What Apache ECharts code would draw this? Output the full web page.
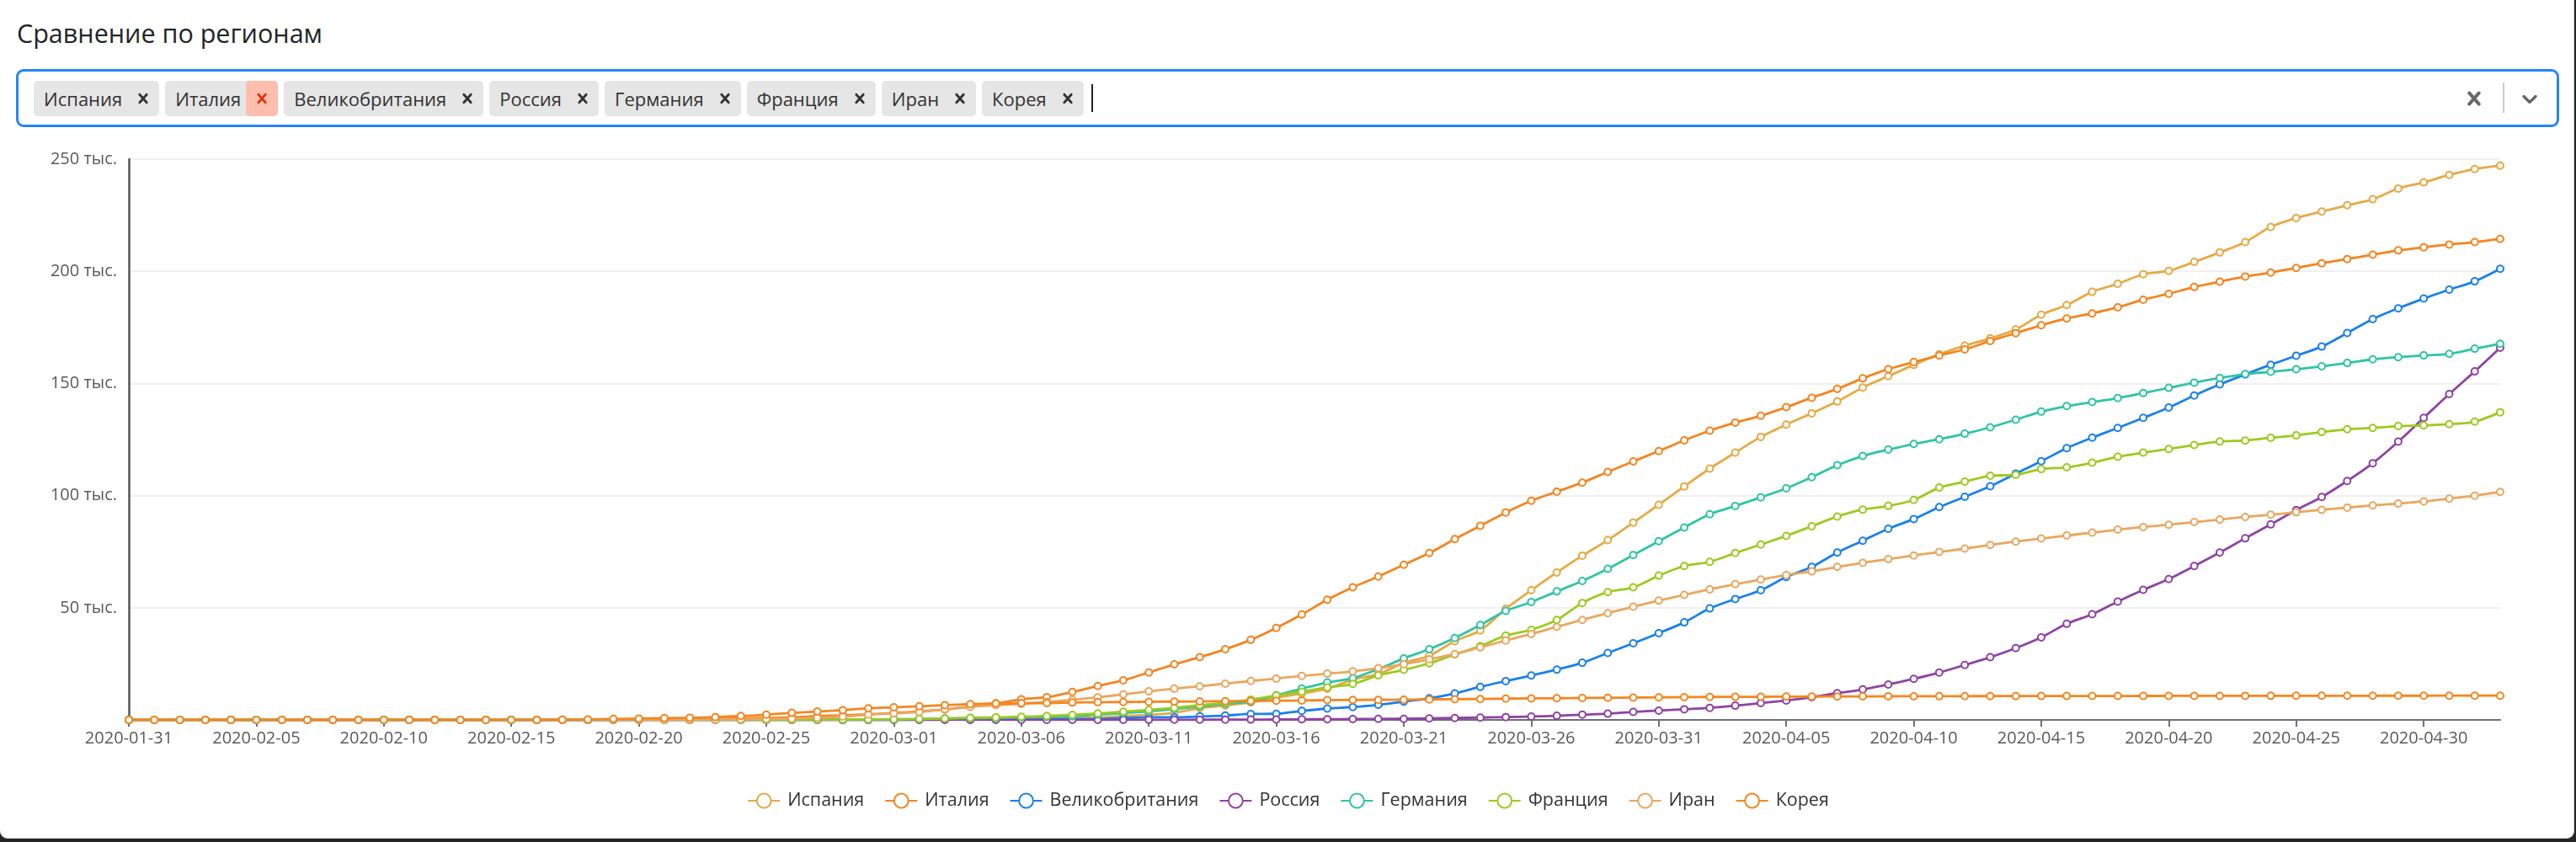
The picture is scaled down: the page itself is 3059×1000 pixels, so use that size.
<!DOCTYPE html>
<html>
<head>
<meta charset="utf-8">
<script src="https://cdn.jsdelivr.net/npm/echarts@6/dist/echarts.min.js"></script>
<style>
  html, body { margin:0; padding:0; }
  body { width:3059px; height:1000px; overflow:hidden; background:#262626; font-family:"Open Sans", "Noto Sans", sans-serif; }
  #card { position:absolute; left:0; top:0; width:3057px; height:996px; background:#fff; border-right:1px solid #d4d4d4; border-bottom:1px solid #d4d4d4; border-radius:0 0 9px 9px; box-sizing:border-box; }
  #title { position:absolute; left:20px; top:18px; font-size:30.5px; line-height:42px; color:#212529; font-weight:500; }
  #select { position:absolute; left:19px; top:82px; width:3020px; height:69px; border:3px solid #2684ff; border-radius:9px; box-sizing:border-box; display:flex; align-items:center; }
  #values { display:flex; align-items:center; padding-left:18px; flex:1; }
  .tag { display:flex; align-items:stretch; background:#e6e6e6; border-radius:5px; height:42px; margin-right:7px; }
  .tag .lbl { font-size:22px; color:#333; padding:0 6px 0 12px; display:flex; align-items:center; }
  .tag .rm { width:38px; display:flex; align-items:center; justify-content:center; border-radius:5px; color:#333; }
  .tag .rm.hot { background:#ffbdad; color:#de350b; }
  .caret { width:2px; height:33px; background:#222; margin-left:2px; }
  #sep { position:absolute; left:2950px; top:13px; width:2px; height:36px; background:#ccc; }
  #clear { position:absolute; left:2905px; top:21px; }
  #chev { position:absolute; left:2966px; top:17px; }
  #chart { position:absolute; left:0; top:160px; width:3059px; height:830px; }
</style>
</head>
<body>
<div id="card">
  <div id="title">Сравнение по регионам</div>
  <div id="select">
    <div id="values"></div>
    <div id="sep"></div>
    <svg id="clear" width="22" height="22" viewBox="0 0 20 20"><path fill="#666" d="M14.348 14.849c-0.469 0.469-1.229 0.469-1.697 0l-2.651-3.030-2.651 3.029c-0.469 0.469-1.229 0.469-1.697 0-0.469-0.469-0.469-1.229 0-1.697l2.758-3.15-2.759-3.152c-0.469-0.469-0.469-1.228 0-1.697s1.228-0.469 1.697 0l2.652 3.031 2.651-3.031c0.469-0.469 1.228-0.469 1.697 0s0.469 1.229 0 1.697l-2.758 3.152 2.758 3.15c0.469 0.469 0.469 1.229 0 1.698z" transform="translate(-5,-5) scale(1.5)"/></svg>
    <svg id="chev" width="32" height="30" viewBox="0 0 20 20"><path fill="#666" d="M4.516 7.548c0.436-0.446 1.043-0.481 1.576 0l3.908 3.747 3.908-3.747c0.533-0.481 1.141-0.446 1.574 0 0.436 0.445 0.408 1.197 0 1.615-0.406 0.418-4.695 4.502-4.695 4.502-0.217 0.223-0.502 0.335-0.787 0.335s-0.57-0.112-0.789-0.335c0 0-4.287-4.084-4.695-4.502s-0.436-1.17 0-1.615z"/></svg>
  </div>
  <div id="chart"></div>
</div>
<script>
const seriesNames = ['Испания', 'Италия', 'Великобритания', 'Россия', 'Германия', 'Франция', 'Иран', 'Корея'];
const seriesColors = ['#e6aa45', '#f5841f', '#1a80ec', '#8e43a3', '#2ec4a5', '#9cca1f', '#eaa75e', '#f5861f'];

const dates = [
'2020-01-31',
'2020-02-01','2020-02-02','2020-02-03','2020-02-04','2020-02-05','2020-02-06','2020-02-07','2020-02-08','2020-02-09','2020-02-10',
'2020-02-11','2020-02-12','2020-02-13','2020-02-14','2020-02-15','2020-02-16','2020-02-17','2020-02-18','2020-02-19','2020-02-20',
'2020-02-21','2020-02-22','2020-02-23','2020-02-24','2020-02-25','2020-02-26','2020-02-27','2020-02-28','2020-02-29',
'2020-03-01','2020-03-02','2020-03-03','2020-03-04','2020-03-05','2020-03-06','2020-03-07','2020-03-08','2020-03-09','2020-03-10',
'2020-03-11','2020-03-12','2020-03-13','2020-03-14','2020-03-15','2020-03-16','2020-03-17','2020-03-18','2020-03-19','2020-03-20',
'2020-03-21','2020-03-22','2020-03-23','2020-03-24','2020-03-25','2020-03-26','2020-03-27','2020-03-28','2020-03-29','2020-03-30','2020-03-31',
'2020-04-01','2020-04-02','2020-04-03','2020-04-04','2020-04-05','2020-04-06','2020-04-07','2020-04-08','2020-04-09','2020-04-10',
'2020-04-11','2020-04-12','2020-04-13','2020-04-14','2020-04-15','2020-04-16','2020-04-17','2020-04-18','2020-04-19','2020-04-20',
'2020-04-21','2020-04-22','2020-04-23','2020-04-24','2020-04-25','2020-04-26','2020-04-27','2020-04-28','2020-04-29','2020-04-30',
'2020-05-01','2020-05-02','2020-05-03'
];

const spain = [0,
1,1,1,1,1,1,1,1, 2,2,2,2,2,2,2,2,2,2,2,2,2,2,2,2, 6,13,15,32,45,
84,120,165,222,259,400,500,673,1073,1695,2277,3146,5232,6391,7798,9942,11748,13910,17963,20410,25374,28603,35136,39885,49515,57786,65719,73235,80110,87956,95923,
104118,112065,119199,126168,131646,136675,141942,148220,153222,158273,163027,166831,170099,174060,180659,184948,190839,194416,198674,200210,204178,208389,213024,219764,223759,226629,229422,232128,236899,239639,
242988,245567,247122];

const italy = [
2,2,2,2, 3,3,3,3,3,3,3,3,3,3,3,3,3,3, 20,62,155,229,322,453,655,888,1128,
1694,2036,2502,3089,3858,4636,5883,7375,9172,10149,12462,15113,17660,21157,24747,27980,31506,35713,41035,47021,53578,59138,63927,69176,74386,80589,86498,92472,97689,101739,105792,
110574,115242,119827,124632,128948,132547,135586,139422,143626,147577,152271,156363,159516,162488,165155,168941,172434,175925,178972,181228,183957,187327,189973,192994,195351,197675,199414,201505,203591,205463,
207428,209328,210717,211938,213013,214457];

const uk = [
2,2,2, 3,3,3,3, 8,8,8, 9,9,9,9,9,9,9,9,9,9,9, 13,13,13, 15,20,23,
36,40,51,86,116,164,207,274,322,384,459,459,802,1144,1145,1551,1960,2642,2716,4014,5067,5745,6726,8164,9640,11812,14745,17312,19780,22453,25481,
29865,34173,38689,43500,49700,53900,57800,63700,68200,74605,79874,85206,89570,94845,99483,104145,109769,115314,121172,125856,130172,134638,139246,144640,149569,154037,158348,162350,166441,172481,
178685,183500,187842,191832,195524,201101];

const russia = [
2,2,2,2,2,2,2,2,2,2,2,2,2,2,2,2,2,2,2,2,2,2,2,2,2,2,2,
2,3,3,3,4,13,13,17,17,20,20,28,45,59,63,90,114,147,199,253,306,367,438,495,658,840,1036,1264,1534,1836,2337,
2777,3548,4149,4731,5389,6343,7497,8672,10131,11917,13584,15770,18328,21102,24490,27938,32008,36793,42853,47121,52763,57999,62773,68622,74588,80949,87147,93558,99399,106498,
114431,124054,134687,145268,155370,165929];

const germany = [
10,12,12,12,13,13,14,14,16, 16,16,16,16,16,16,16,16,16,16,16,16,16, 17,27,46,48,79,
117,150,188,240,400,639,795,902,1139,1296,1567,2369,3062,3795,4838,6012,7156,8198,10999,13957,16662,18610,22672,27436,31554,36508,42288,48582,52547,57298,61913,
67366,73522,79696,85778,91714,95391,99225,103228,108202,113525,117658,120479,123016,125098,127584,130450,133830,137439,139897,141672,143457,145694,148046,150383,152438,154175,155193,156337,157641,159119,
160758,161703,162496,163175,165500,167700];

const france = [
6,6,6,6,6, 11,11,11,11,11,11,11, 12,12,12,12,12,12,12,12,12,12,12, 18,38,57,100,
130,191,212,285,423,653,949,1126,1412,1784,2281,2876,3661,4469,5380,6573,7652,9043,10871,12612,14459,16018,19856,22302,25233,29155,32964,37575,40174,44550,52128,
56989,59105,64338,68605,70478,74390,78167,82048,86334,90676,93790,95403,98076,103573,106206,108847,109252,111821,112606,114657,117324,119151,120804,122577,124114,124575,125770,126835,128339,129581,
130185,130979,131287,131863,132967,137150];

const iran = [
0,0,0,0,0,0,0,0,0,0,0,0,0,0,0,0, 2,5,18,28,43,61,95,139,245,388,593,
978,1501,2336,2922,3513,4747,5823,6566,7161,8042,9000,10075,11364,12729,13938,14991,16169,17361,18407,19644,20610,21638,23049,24811,27017,29406,32332,35408,38309,41495,44605,
47593,50468,53183,55743,58226,60500,62589,64586,66220,68192,70029,71686,73303,74877,76389,77995,79494,80868,82211,83505,84802,85996,87026,88194,89328,90481,91472,92584,93657,94640,
95646,96448,97424,98647,99970,101650];

const korea = [
15,16,19,23,24,24,25,27,28,28,28,28,28,29,30,31,31,104,204,433,602,833,977,1261,1766,2337,3150,
3736,4335,5186,5621,6088,6593,7041,7314,7478,7513,7755,7869,7979,8086,8162,8236,8320,8413,8565,8652,8799,8897,8961,9037,9137,9241,9332,9478,9583,9661,9786,
9887,9976,10062,10156,10237,10284,10331,10384,10423,10450,10480,10512,10537,10564,10591,10613,10635,10653,10661,10674,10683,10694,10708,10718,10728,10738,10752,10761,10765,10774,
10780,10793,10801,10804,10806,10810];

const yTicks = [0, 50000, 100000, 150000, 200000, 250000];
const yLabelSuffix = ' тыс.';

const allSeries = [spain, italy, uk, russia, germany, france, iran, korea];

// selected-region tags
const hotTag = 'Италия';
const valuesEl = document.getElementById('values');
const xIcon = (c) => '<svg width="16" height="16" viewBox="0 0 20 20"><path fill="' + c + '" d="M14.348 14.849c-0.469 0.469-1.229 0.469-1.697 0l-2.651-3.030-2.651 3.029c-0.469 0.469-1.229 0.469-1.697 0-0.469-0.469-0.469-1.229 0-1.697l2.758-3.15-2.759-3.152c-0.469-0.469-0.469-1.228 0-1.697s1.228-0.469 1.697 0l2.652 3.031 2.651-3.031c0.469-0.469 1.228-0.469 1.697 0s0.469 1.229 0 1.697l-2.758 3.152 2.758 3.15c0.469 0.469 0.469 1.229 0 1.698z" transform="translate(-5,-5) scale(1.5)"/></svg>';
seriesNames.forEach(n => {
  const t = document.createElement('div');
  t.className = 'tag';
  const hot = n === hotTag;
  t.innerHTML = '<div class="lbl">' + n + '</div><div class="rm' + (hot ? ' hot' : '') + '">' + xIcon(hot ? '#de350b' : '#333') + '</div>';
  valuesEl.appendChild(t);
});
const caret = document.createElement('div');
caret.className = 'caret';
valuesEl.appendChild(caret);

const chart = echarts.init(document.getElementById('chart'), null, { renderer: 'canvas' });
const font = '"Open Sans", "Noto Sans", sans-serif';
chart.setOption({
  animation: false,
  textStyle: { fontFamily: font },
  grid: { left: 153, right: 90, top: 29, height: 666 },
  legend: {
    top: 775,
    left: 'center',
    itemWidth: 38,
    itemHeight: 21,
    itemGap: 24,
    textStyle: { fontSize: 21.5, color: '#333', fontFamily: font, padding: [0, 0, 0, 4] },
    data: seriesNames
  },
  xAxis: {
    type: 'category',
    data: dates,
    boundaryGap: false,
    axisLine: { lineStyle: { color: '#6E7079', width: 2 } },
    axisTick: { alignWithLabel: true, interval: 4, length: 8, lineStyle: { width: 2 } },
    axisLabel: { interval: 4, fontSize: 20, color: '#5a5a5a', margin: 12, fontFamily: font }
  },
  yAxis: {
    type: 'value',
    min: yTicks[0],
    max: yTicks[yTicks.length - 1],
    interval: yTicks[1] - yTicks[0],
    axisLine: { show: true, lineStyle: { color: '#555', width: 2.5 } },
    axisTick: { show: false },
    splitLine: { lineStyle: { color: '#f0f0f0', width: 2 } },
    axisLabel: {
      fontSize: 20, color: '#5a5a5a', margin: 14, fontFamily: font,
      formatter: v => v === 0 ? '' : (v / 1000) + yLabelSuffix
    }
  },
  series: seriesNames.map((n, i) => ({
    name: n,
    type: 'line',
    data: allSeries[i],
    symbol: 'emptyCircle',
    symbolSize: 8,
    smooth: 0.3,
    color: seriesColors[i],
    lineStyle: { width: 2.8 },
    itemStyle: { borderWidth: 2 }
  }))
});
</script>
</body>
</html>
